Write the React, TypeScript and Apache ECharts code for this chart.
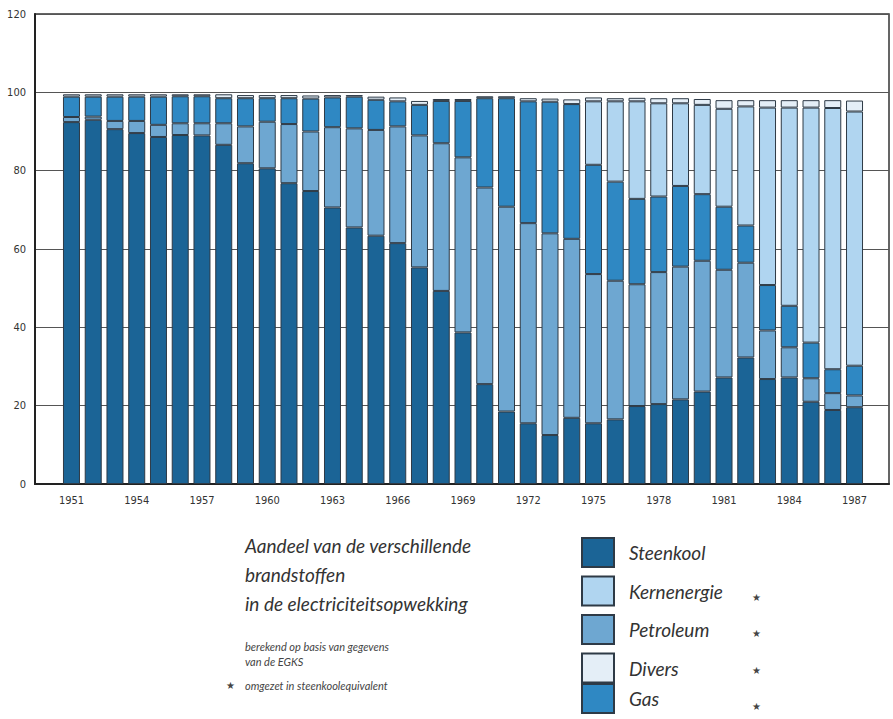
import React, { useEffect, useRef } from "react";
import * as echarts from "echarts";

const years = [
  1951, 1952, 1953, 1954, 1955, 1956, 1957, 1958, 1959, 1960, 1961, 1962, 1963,
  1964, 1965, 1966, 1967, 1968, 1969, 1970, 1971, 1972, 1973, 1974, 1975, 1976,
  1977, 1978, 1979, 1980, 1981, 1982, 1983, 1984, 1985, 1986, 1987,
];
const yTicks = [0, 20, 40, 60, 80, 100, 120];

const steenkool = [
  92.4, 93.0, 90.6, 89.6, 88.6, 89.1, 89.0, 86.6, 81.9, 80.6, 76.8, 74.8, 70.6,
  65.5, 63.4, 61.5, 55.3, 49.3, 38.7, 25.5, 18.5, 15.5, 12.5, 16.9, 15.5, 16.5,
  19.9, 20.4, 21.6, 23.6, 27.2, 32.3, 26.8, 27.2, 21.0, 18.9, 19.6,
];
const petroleum = [
  1.3, 0.8, 2.1, 3.1, 3.1, 3.0, 3.1, 5.5, 9.4, 11.9, 15.1, 15.2, 20.5,
  25.3, 27.0, 29.8, 33.7, 37.7, 44.7, 50.2, 52.3, 51.1, 51.5, 45.7, 38.1, 35.4,
  31.1, 33.7, 33.9, 33.4, 27.5, 24.2, 12.4, 7.7, 6.0, 4.3, 3.0,
];
const gas = [
  5.2, 5.1, 6.2, 6.2, 7.2, 6.9, 6.9, 6.4, 7.2, 6.0, 6.6, 8.4, 7.6,
  8.1, 7.7, 6.4, 7.8, 10.8, 14.4, 22.8, 27.7, 31.1, 33.6, 34.4, 27.9, 25.3,
  21.8, 19.3, 20.6, 17.0, 16.1, 9.5, 11.6, 10.6, 9.1, 6.1, 7.6,
];
const kernenergie = [
  null, null, null, null, null, null, null, null, null, null, null, null, null,
  null, null, null, null, null, null, null, null, null, null, null, 16.2, 20.5,
  24.9, 23.8, 21.1, 22.8, 25.0, 30.4, 45.3, 50.6, 60.0, 66.7, 64.9,
];
const divers = [
  0.6, 0.6, 0.6, 0.6, 0.6, 0.5, 0.5, 1.0, 0.8, 0.8, 0.8, 0.8, 0.6,
  0.4, 0.8, 1.0, 1.0, 0.5, 0.5, 0.5, 0.5, 0.8, 0.8, 1.2, 1.0, 0.8,
  0.9, 1.3, 1.3, 1.5, 2.2, 1.6, 1.9, 1.9, 1.9, 2.0, 2.8,
];

const legendOrder = ["Steenkool", "Kernenergie", "Petroleum", "Divers", "Gas"];
const titleLines = ["Aandeel van de verschillende", "brandstoffen", "in de electriciteitsopwekking"];
const noteLines = ["berekend op basis van gegevens", "van de EGKS", "omgezet in steenkoolequivalent"];

const COLORS: Record<string, string> = {
  Steenkool: "#1b6496",
  Petroleum: "#6ea7d1",
  Gas: "#2f88c3",
  Kernenergie: "#b0d5f0",
  Divers: "#e4eef7",
};

const FONT = "Lato, 'Open Sans', sans-serif";
const AXFONT = "'DejaVu Sans Condensed', 'Liberation Sans Narrow', sans-serif";

export default function App() {
  const ref = useRef<HTMLDivElement>(null);
  useEffect(() => {
    if (!ref.current) return;
    const chart = echarts.init(ref.current, null, { renderer: "svg" });
    const mk = (name: string, arr: (number | null)[]) => ({
      name,
      type: "bar",
      stack: "total",
      xAxisIndex: 1,
      yAxisIndex: 1,
      barWidth: 17,
      data: arr,
      itemStyle: { color: COLORS[name], borderColor: "#2e3a46", borderWidth: 1 },
      emphasis: { disabled: true },
    });
    const graphics: any[] = [];
    titleLines.forEach((t, i) => {
      graphics.push({
        type: "text",
        left: 245,
        top: 536 + i * 29,
        style: { text: t, font: `italic 19px ${FONT}`, fill: "#333" },
      });
    });
    noteLines.forEach((t, i) => {
      graphics.push({
        type: "text",
        left: 245,
        top: [641, 656, 680][i],
        style: { text: t, font: `italic 11px ${FONT}`, fill: "#444" },
      });
    });
    graphics.push({
      type: "text",
      left: 226,
      top: 680,
      style: { text: "★", font: `10px ${FONT}`, fill: "#444" },
    });
    [592, 628, 665, 701].forEach((y) => {
      graphics.push({
        type: "text",
        left: 752,
        top: y,
        style: { text: "★", font: `10px ${FONT}`, fill: "#444" },
      });
    });

    const legendBase = {
      orient: "vertical",
      left: 581,
      padding: 0,
      itemWidth: 32,
      itemHeight: 29,
      itemGap: 7.5,
      icon: "rect",
      selectedMode: false,
      textStyle: {
        fontFamily: FONT,
        fontStyle: "italic",
        fontSize: 19,
        lineHeight: 20,
        color: "#333",
        padding: [5, 0, 0, 10],
      },
    };

    chart.setOption({
      animation: false,
      backgroundColor: "#fff",
      grid: [
        {
          left: 35,
          right: 4,
          top: 14,
          bottom: 235,
          show: true,
          borderColor: "#333",
          borderWidth: 1.5,
        },
        {
          left: 60.6,
          right: 27.6,
          top: 14,
          bottom: 235,
        },
      ],
      legend: [
        { ...legendBase, top: 537, data: legendOrder.slice(0, 4) },
        { ...legendBase, top: 683, data: legendOrder.slice(4) },
      ],
      xAxis: [
        {
          type: "value",
          gridIndex: 0,
          min: 0,
          max: 1,
          splitLine: { show: false },
          axisTick: { show: false },
          axisLabel: { show: false },
          axisLine: { show: true, lineStyle: { color: "#222", width: 2 } },
        },
        {
          type: "category",
          gridIndex: 1,
          data: years.map(String),
          boundaryGap: true,
          axisLine: { show: false },
          axisTick: { show: false },
          axisLabel: {
            interval: 2,
            fontFamily: AXFONT,
            fontSize: 11,
            color: "#333",
            margin: 11,
          },
        },
      ],
      yAxis: [
        {
          type: "value",
          gridIndex: 0,
          min: yTicks[0],
          max: yTicks[yTicks.length - 1],
          interval: 20,
          axisLine: { show: true, lineStyle: { color: "#222", width: 2 } },
          axisTick: { show: false },
          splitLine: { show: true, lineStyle: { color: "#555", width: 1.2 } },
          axisLabel: {
            fontFamily: AXFONT,
            fontSize: 11,
            color: "#333",
            margin: 9,
          },
        },
        {
          type: "value",
          gridIndex: 1,
          min: yTicks[0],
          max: yTicks[yTicks.length - 1],
          interval: 20,
          show: false,
          splitLine: { show: false },
        },
      ],
      series: [
        mk("Steenkool", steenkool),
        mk("Petroleum", petroleum),
        mk("Gas", gas),
        mk("Kernenergie", kernenergie),
        mk("Divers", divers),
      ],
      graphic: graphics,
    });
    return () => chart.dispose();
  }, []);
  return (
    <div
      ref={ref}
      style={{ position: "fixed", left: 0, top: 0, width: 893, height: 719, background: "#fff" }}
    />
  );
}
